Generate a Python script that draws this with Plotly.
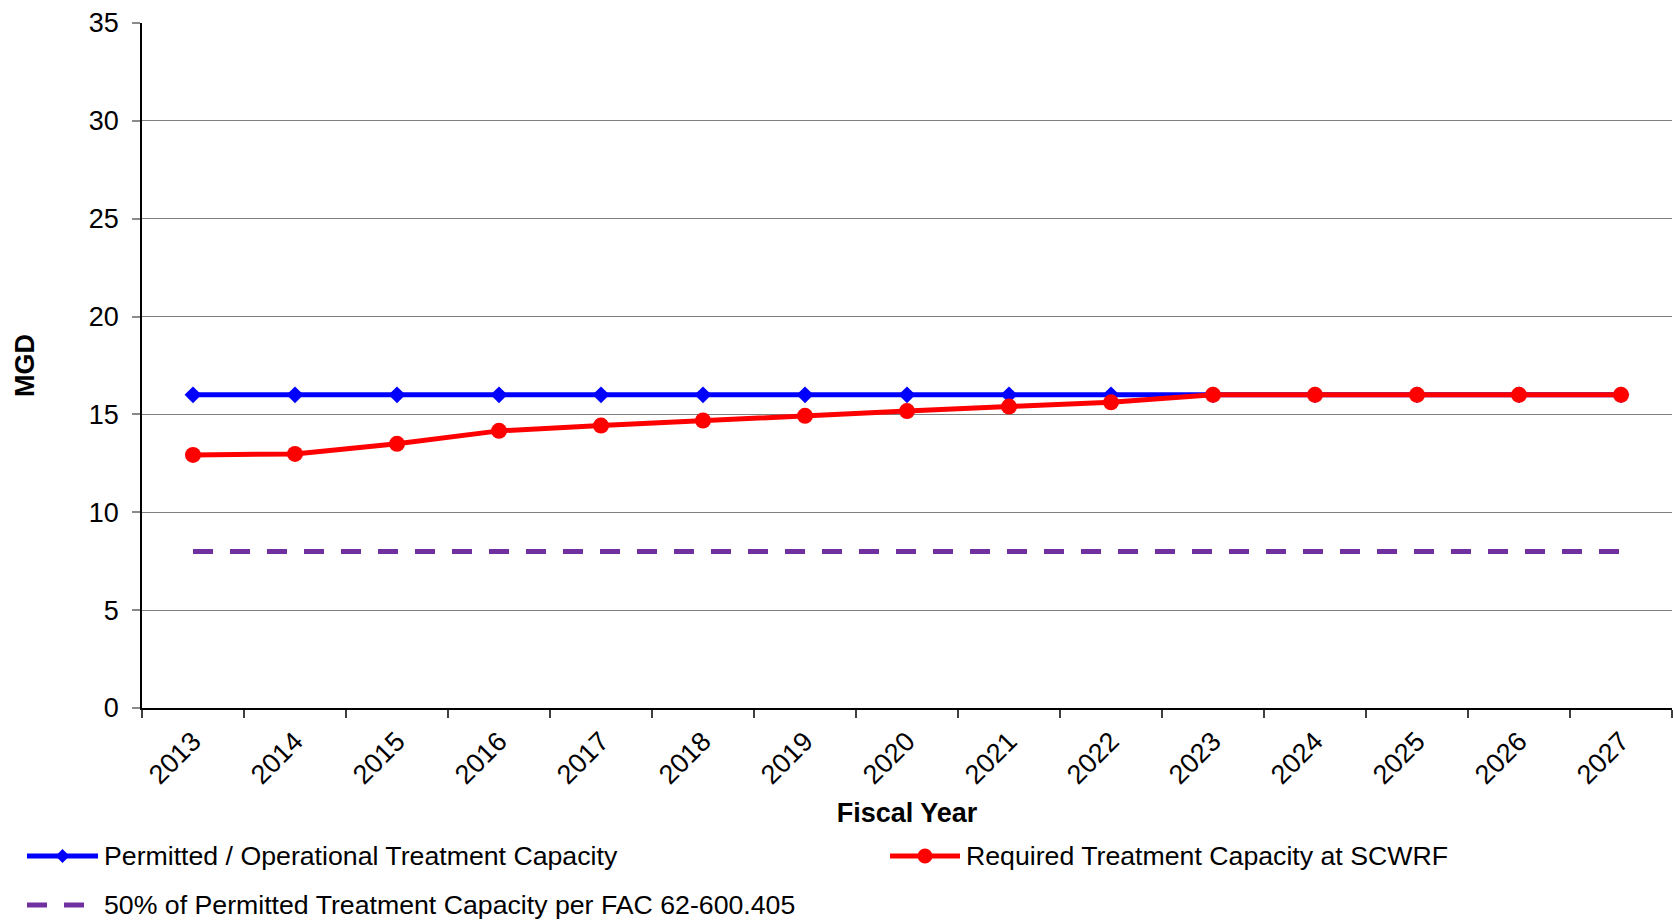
import plotly.graph_objects as go

# Fiscal years and capacities (MGD)
years = [str(y) for y in range(2013, 2028)]
permitted_capacity = [16, 16, 16, 16, 16, 16, 16, 16, 16, 16, 16, 16, 16, 16, 16]
required_capacity = [12.93, 12.98, 13.5, 14.16, 14.43, 14.69, 14.93, 15.17, 15.40, 15.62,
                     16, 16, 16, 16, 16]
half_permitted = [8, 8, 8, 8, 8, 8, 8, 8, 8, 8, 8, 8, 8, 8, 8]
y_ticks = [0, 5, 10, 15, 20, 25, 30, 35]

series_names = [
    "Permitted / Operational Treatment Capacity",
    "Required Treatment Capacity at SCWRF",
    "50% of Permitted Treatment Capacity per FAC 62-600.405",
]

W, H = 1673, 922
M_L, M_R, M_T, M_B = 142, 1, 23, 214
PW, PH = W - M_L - M_R, H - M_T - M_B

FONT = "Liberation Sans, Arial, sans-serif"
BLUE, RED, PURPLE = "#0000FF", "#FF0000", "#7030A0"


def px_x(x):
    return (x - M_L) / PW


def px_y(y):
    return (H - M_B - y) / PH


fig = go.Figure()

fig.add_trace(go.Scatter(
    x=years, y=permitted_capacity, name=series_names[0], mode="lines+markers",
    line=dict(color=BLUE, width=5), marker=dict(symbol="diamond", size=13, color=BLUE),
    showlegend=False,
))
fig.add_trace(go.Scatter(
    x=years, y=half_permitted, name=series_names[2], mode="lines",
    line=dict(color=PURPLE, width=5, dash="20px,17px"),
    showlegend=False,
))
fig.add_trace(go.Scatter(
    x=years, y=required_capacity, name=series_names[1], mode="lines+markers",
    line=dict(color=RED, width=5), marker=dict(symbol="circle", size=16, color=RED),
    showlegend=False,
))

tick_font = dict(family=FONT, size=27, color="#000000")
title_font = dict(family=FONT, size=27, color="#000000")

fig.update_layout(
    width=W, height=H,
    margin=dict(l=M_L, r=M_R, t=M_T, b=M_B),
    paper_bgcolor="white", plot_bgcolor="white",
    showlegend=False,
    xaxis=dict(
        type="category", categoryorder="array", categoryarray=years,
        range=[-0.5, len(years) - 0.5],
        tickson="boundaries", ticks="outside", ticklen=8, tickwidth=1.5, tickcolor="#404040",
        tickangle=-45, tickfont=tick_font, ticklabelstandoff=5,
        showline=True, linecolor="#000000", linewidth=1.5,
        showgrid=False, zeroline=False,
        title=dict(text="<b>Fiscal Year</b>", font=title_font, standoff=14),
    ),
    xaxis2=dict(
        overlaying="x", anchor="y", range=[-0.5, len(years) - 0.5],
        tickmode="array", tickvals=[i - 0.5 for i in range(len(years) + 1)],
        ticks="inside", ticklen=8, tickwidth=1.5, tickcolor="#404040",
        showticklabels=False, showline=False, showgrid=False, zeroline=False,
    ),
    yaxis=dict(
        range=[0, 35], tickvals=y_ticks, ticks="outside", ticklen=8, tickwidth=1.5,
        tickcolor="#8a8a8a", tickfont=tick_font, ticklabelstandoff=8,
        showline=True, linecolor="#000000", linewidth=1.5,
        showgrid=True, gridcolor="#808080", gridwidth=1, zeroline=False,
        title=dict(text="<b>MGD</b>", font=title_font, standoff=46),
    ),
    yaxis2=dict(
        overlaying="y", anchor="x", range=[0, 35], tickvals=y_ticks,
        ticks="inside", ticklen=8, tickwidth=1.5, tickcolor="#8a8a8a",
        showticklabels=False, showline=False, showgrid=False, zeroline=False,
    ),
)

# Legend drawn below the plot: line swatches with markers and labels
shapes = []
annotations = []
legend_rows = [
    (27, 98, 856, BLUE, "diamond", series_names[0]),
    (890, 960, 856, RED, "circle", series_names[1]),
    (27, 84, 905, PURPLE, "dash", series_names[2]),
]
for x0, x1, yc, color, kind, label in legend_rows:
    if kind == "dash":
        for dx0, dx1 in [(x0, x0 + 20), (x0 + 37, x1)]:
            shapes.append(dict(type="line", xref="paper", yref="paper",
                               x0=px_x(dx0), x1=px_x(dx1), y0=px_y(yc), y1=px_y(yc),
                               line=dict(color=color, width=5)))
    else:
        shapes.append(dict(type="line", xref="paper", yref="paper",
                           x0=px_x(x0), x1=px_x(x1), y0=px_y(yc), y1=px_y(yc),
                           line=dict(color=color, width=5)))
        xc = (x0 + x1) / 2
        if kind == "circle":
            r = 7.5
            shapes.append(dict(type="circle", xref="paper", yref="paper",
                               x0=px_x(xc - r), x1=px_x(xc + r),
                               y0=px_y(yc + r), y1=px_y(yc - r),
                               fillcolor=color, line=dict(color=color, width=0)))
        else:
            r = 7
            path = (f"M {px_x(xc - r)} {px_y(yc)} L {px_x(xc)} {px_y(yc - r)} "
                    f"L {px_x(xc + r)} {px_y(yc)} L {px_x(xc)} {px_y(yc + r)} Z")
            shapes.append(dict(type="path", xref="paper", yref="paper", path=path,
                               fillcolor=color, line=dict(color=color, width=0)))
    text_x = x1 + 4 if kind != "dash" else 102
    annotations.append(dict(
        xref="paper", yref="paper", x=px_x(text_x), y=px_y(yc),
        xanchor="left", yanchor="middle", showarrow=False, text=label,
        font=dict(family=FONT, size=26.7, color="#000000"),
    ))

fig.update_layout(shapes=shapes, annotations=annotations)

fig.write_html("out.html")
